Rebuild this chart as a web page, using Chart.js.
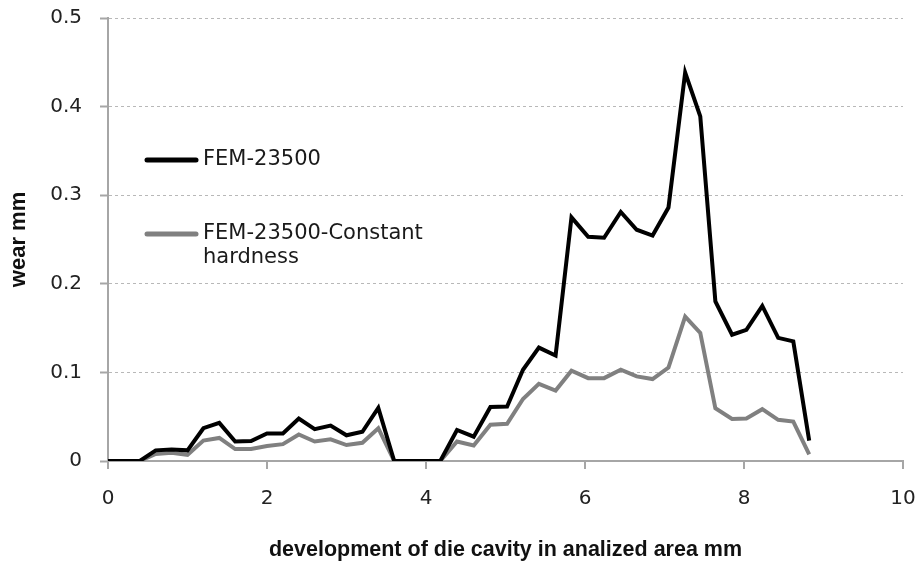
<!DOCTYPE html>
<html>
<head>
<meta charset="utf-8">
<script src="https://cdn.jsdelivr.net/npm/chart.js@4/dist/chart.umd.min.js"></script>
<style>
  html, body { margin: 0; padding: 0; background: #fff; }
  #wrap { width: 918px; height: 565px; }
</style>
</head>
<body>
<div id="wrap"><canvas id="wearChart" width="918" height="565"></canvas></div>
<script>
// positions along the die cavity (mm)
const positions = [0, 0.2, 0.4, 0.6, 0.8, 1.0, 1.2, 1.4, 1.6, 1.8, 2.0, 2.2, 2.4, 2.6, 2.8, 3.0, 3.2, 3.4, 3.6, 3.8, 4.0, 4.18,
  4.39, 4.6, 4.81, 5.02, 5.22, 5.42, 5.63, 5.83, 6.04, 6.24, 6.45, 6.65, 6.85, 7.05, 7.26, 7.45, 7.64, 7.85, 8.03, 8.23, 8.43, 8.62, 8.82];

// wear, FEM-23500
const wearFem = [0, 0, 0, 0.012, 0.013, 0.012, 0.037, 0.043, 0.022, 0.0225, 0.031, 0.031, 0.048, 0.036, 0.040, 0.029, 0.033, 0.060, 0, 0, 0, 0,
  0.035, 0.0275, 0.061, 0.0615, 0.103, 0.128, 0.119, 0.275, 0.253, 0.252, 0.281, 0.261, 0.2545, 0.286, 0.4385, 0.389, 0.180, 0.1425, 0.148, 0.175, 0.139, 0.135, 0.023];

// wear, FEM-23500 with constant hardness
const wearConst = [0, 0, 0, 0.008, 0.0094, 0.007, 0.023, 0.026, 0.0135, 0.0135, 0.017, 0.019, 0.030, 0.022, 0.0245, 0.018, 0.0205, 0.037, 0, 0, 0, 0,
  0.022, 0.0175, 0.041, 0.042, 0.070, 0.087, 0.0795, 0.102, 0.0935, 0.0935, 0.103, 0.0955, 0.0925, 0.1055, 0.163, 0.1445, 0.0595, 0.0475, 0.048, 0.0585, 0.0465, 0.0445, 0.0075];

const seriesNames = ['FEM-23500', 'FEM-23500-Constant hardness'];
const xTicks = [0, 2, 4, 6, 8, 10];
const yTicks = [0, 0.1, 0.2, 0.3, 0.4, 0.5];

const toPoints = vals => vals.map((v, i) => ({ x: positions[i], y: v }));

const axisGrey = '#a6a6a6';
const tickFont = { family: '"DejaVu Sans", sans-serif', size: 20 };

// legend drawn inside the plot area, like the original
const innerLegend = {
  id: 'innerLegend',
  afterDraw(chart) {
    const ctx = chart.ctx;
    const area = chart.chartArea;
    const x0 = area.left + 37;
    const rows = [area.top + 142, area.top + 216];
    ctx.save();
    ctx.font = '21px "DejaVu Sans", sans-serif';
    ctx.textBaseline = 'middle';
    ctx.fillStyle = '#1a1a1a';
    chart.data.datasets.forEach((ds, i) => {
      const y = rows[i];
      ctx.strokeStyle = ds.borderColor;
      ctx.lineWidth = 5;
      ctx.lineCap = 'round';
      ctx.beginPath();
      ctx.moveTo(x0 + 2, y);
      ctx.lineTo(x0 + 51, y);
      ctx.stroke();
      // simple word wrap
      const words = ds.label.split(' ');
      let line = '';
      let ly = y;
      words.forEach(w => {
        const test = line ? line + ' ' + w : w;
        if (ctx.measureText(test).width > 225 && line) {
          ctx.fillText(line, x0 + 58, ly);
          line = w;
          ly += 24;
        } else {
          line = test;
        }
      });
      ctx.fillText(line, x0 + 58, ly);
    });
    ctx.restore();
  }
};

new Chart(document.getElementById('wearChart'), {
  type: 'line',
  data: {
    datasets: [
      {
        label: seriesNames[0],
        data: toPoints(wearFem),
        borderColor: '#000000',
        borderWidth: 4,
        pointRadius: 0,
        tension: 0
      },
      {
        label: seriesNames[1],
        data: toPoints(wearConst),
        borderColor: '#808080',
        borderWidth: 4,
        pointRadius: 0,
        tension: 0
      }
    ]
  },
  options: {
    responsive: false,
    animation: false,
    layout: { padding: { top: 18, right: 15, left: 0, bottom: 0 } },
    plugins: {
      legend: { display: false },
      tooltip: { enabled: false }
    },
    scales: {
      x: {
        type: 'linear',
        min: 0,
        max: 10,
        afterBuildTicks: s => { s.ticks = xTicks.map(v => ({ value: v })); },
        afterFit: s => { s.height = 104; s.paddingLeft = 0; s.paddingRight = 0; },
        ticks: { color: '#222', font: tickFont, padding: 18, maxRotation: 0 },
        grid: { drawOnChartArea: false, drawTicks: true, tickLength: 8, color: axisGrey, lineWidth: 2 },
        border: { color: axisGrey, width: 2 },
        title: {
          display: true,
          text: 'development of die cavity in analized area mm',
          color: '#111',
          font: { family: '"Liberation Sans", sans-serif', size: 21.5, weight: 'bold' },
          padding: { top: 0, bottom: 2 }
        }
      },
      y: {
        min: 0,
        max: 0.5,
        afterBuildTicks: s => { s.ticks = yTicks.map(v => ({ value: v })); },
        afterFit: s => { s.width = 108; s.paddingTop = 0; s.paddingBottom = 0; },
        ticks: { color: '#222', font: tickFont, padding: 18 },
        grid: {
          color: '#b8b8b8',
          lineWidth: 1,
          tickColor: axisGrey,
          tickLength: 8,
          tickWidth: 2
        },
        border: { color: axisGrey, width: 2, dash: [3, 3] },
        title: {
          display: true,
          text: 'wear mm',
          color: '#111',
          font: { family: '"Liberation Sans", sans-serif', size: 22, weight: 'bold' },
          padding: { top: 6, bottom: 0 }
        }
      }
    }
  },
  plugins: [innerLegend]
});
</script>
</body>
</html>
